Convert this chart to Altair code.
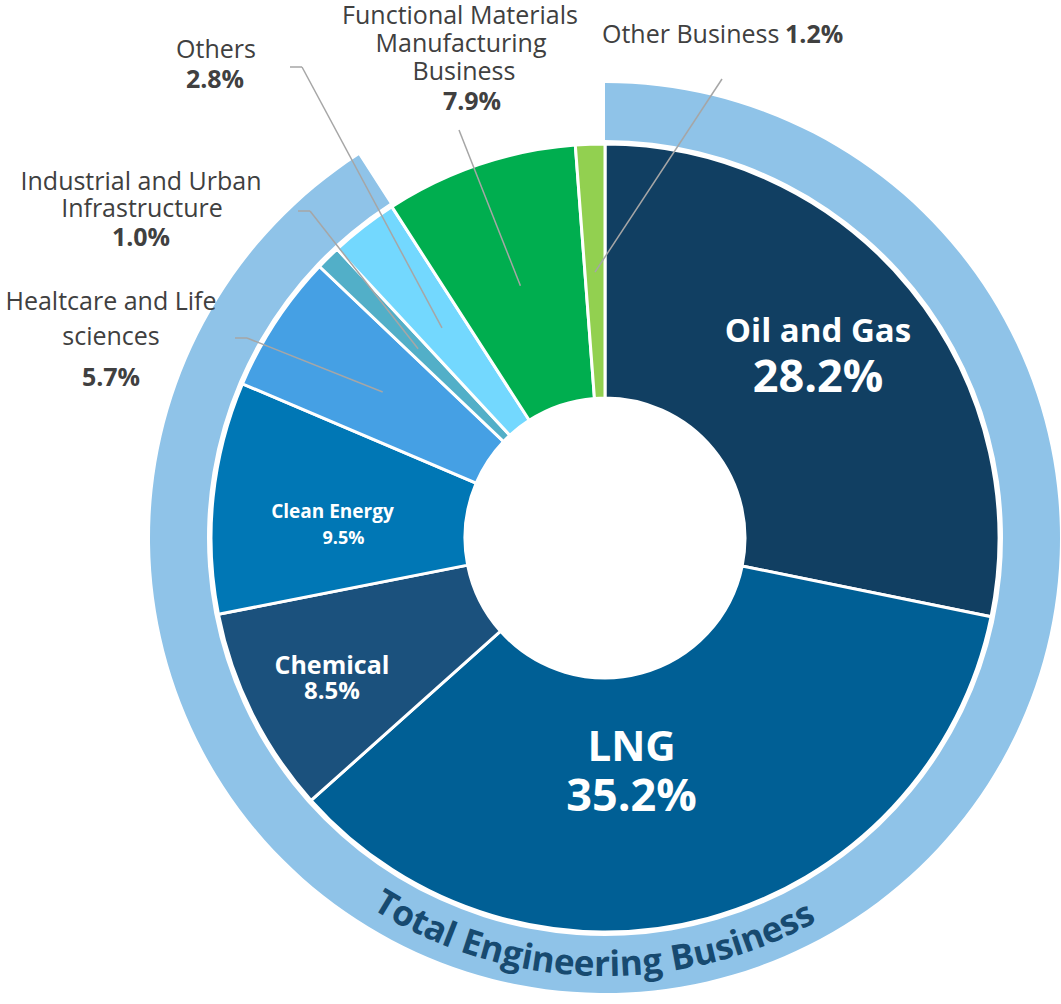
import math
import altair as alt
import pandas as pd

# ---------------- data ----------------
CATEGORIES = [
    "Oil and Gas",
    "LNG",
    "Chemical",
    "Clean Energy",
    "Healtcare and Life sciences",
    "Industrial and Urban Infrastructure",
    "Others",
    "Functional Materials Manufacturing Business",
    "Other Business",
]
SHARES = [28.2, 35.2, 8.5, 9.5, 5.7, 1.0, 2.8, 7.9, 1.2]
SEGMENTS = ["Total Engineering Business"] * 7 + ["Non-Engineering Business"] * 2
RING_TITLE = "Total Engineering Business"

# ---------------- styles ----------------
COLORS = ["#113F62", "#005F95", "#1B517D", "#0077B5", "#45A0E4",
          "#52AFC8", "#73D8FE", "#00AE4F", "#92D050"]
RING_COLOR = "#8FC3E8"
RING_TEXT_COLOR = "#174A70"
LABEL_COLOR = "#404040"
LEADER_COLOR = "#A6A6A6"
FONT = "Open Sans"
CX, CY = 605, 538
W, H = 1061, 1004

df = pd.DataFrame({
    "category": CATEGORIES,
    "share": SHARES,
    "segment": SEGMENTS,
    "order": list(range(len(CATEGORIES))),
})

# inner label layout: radius of anchor at slice mid-angle, per-line offsets and font sizes
INNER_LAYOUT = [
    dict(category="Oil and Gas", r=275, ndx=0, ndy=-32, nfs=33, pdx=0, pdy=14, pfs=45),
    dict(category="LNG", r=236, ndx=-35, ndy=-18, nfs=42, pdx=-35, pdy=31, pfs=45),
    dict(category="Chemical", r=305, ndx=0, ndy=-8, nfs=25, pdx=0, pdy=18, pfs=24),
    dict(category="Clean Energy", r=268, ndx=-6, ndy=2, nfs=19, pdx=5, pdy=29, pfs=18),
]

# leader lines: start at slice mid-angle (radius r), elbow (ex,ey), end (tx,ty)
LEADERS = [
    dict(category="Other Business", r=266, ex=722, ey=79, tx=722, ty=79),
    dict(category="Functional Materials Manufacturing Business", r=266, ex=459, ey=130, tx=459, ty=130),
    dict(category="Others", r=266, ex=302, ey=67, tx=290, ty=67),
    dict(category="Industrial and Urban Infrastructure", r=266, ex=310, ey=211, tx=298, ty=211),
    dict(category="Healtcare and Life sciences", r=266, ex=247, ey=338, tx=235, ty=338),
]

pct = {c: f"{v:.1f}%" for c, v in zip(CATEGORIES, SHARES)}

# external label lines (annotation text)
ANNOTATIONS = [
    dict(text="Others", x=216, y=50, w="normal", align="center"),
    dict(text=pct["Others"], x=215, y=80, w="bold", align="center"),
    dict(text="Industrial and Urban", x=141, y=182, w="normal", align="center"),
    dict(text="Infrastructure", x=142, y=209, w="normal", align="center"),
    dict(text=pct["Industrial and Urban Infrastructure"], x=141, y=238, w="bold", align="center"),
    dict(text="Healtcare and Life", x=111, y=302, w="normal", align="center"),
    dict(text="sciences", x=111, y=337, w="normal", align="center"),
    dict(text=pct["Healtcare and Life sciences"], x=111, y=378, w="bold", align="center"),
    dict(text="Functional Materials", x=460, y=16, w="normal", align="center"),
    dict(text="Manufacturing", x=461, y=44, w="normal", align="center"),
    dict(text="Business", x=464, y=72, w="normal", align="center"),
    dict(text=pct["Functional Materials Manufacturing Business"], x=472, y=102, w="bold", align="center"),
    dict(text="Other Business", x=602, y=35, w="normal", align="left"),
    dict(text=pct["Other Business"], x=785, y=35, w="bold", align="left"),
]
ann_df = pd.DataFrame(ANNOTATIONS)

# curved ring title: per-character placement along the ring
CHAR_EM = {"T": 0.56, "o": 0.60, "t": 0.42, "a": 0.58, "l": 0.29, " ": 0.26,
           "E": 0.55, "n": 0.64, "g": 0.57, "i": 0.29, "e": 0.57, "r": 0.45,
           "B": 0.66, "u": 0.64, "s": 0.49}
RING_FS = 35
RING_R = 427
RING_CENTER_DEG = 181.6
widths = [CHAR_EM.get(c, 0.55) * RING_FS for c in RING_TITLE]
total_w = sum(widths)
rows, cum = [], 0.0
for c, w in zip(RING_TITLE, widths):
    s = total_w / 2 - (cum + w / 2)
    th = RING_CENTER_DEG + math.degrees(s / RING_R)
    rows.append(dict(char=c, pos=th, rot=(th - 180) % 360))
    cum += w
chars_df = pd.DataFrame(rows)

# ---------------- layers ----------------
color_scale = alt.Scale(domain=CATEGORIES, range=COLORS)

pie = alt.Chart(df).mark_arc(
    innerRadius=140, outerRadius=394, stroke="white", strokeWidth=3
).encode(
    theta=alt.Theta("share:Q", stack=True),
    order=alt.Order("order:Q"),
    color=alt.Color("category:N", scale=color_scale, legend=None),
    x=alt.value(CX),
    y=alt.value(CY),
)

ring = alt.Chart(df).transform_aggregate(
    share="sum(share)", first="min(order)", groupby=["segment"]
).mark_arc(innerRadius=398, outerRadius=455).encode(
    theta=alt.Theta("share:Q", stack=True),
    order=alt.Order("first:Q"),
    color=alt.when(alt.datum.segment == RING_TITLE)
    .then(alt.value(RING_COLOR))
    .otherwise(alt.value("transparent")),
    x=alt.value(CX),
    y=alt.value(CY),
)

base = alt.Chart(df).transform_joinaggregate(
    total="sum(share)"
).transform_window(
    cum="sum(share)", sort=[alt.SortField("order", order="ascending")], frame=[None, 0]
).transform_calculate(
    mid="(datum.cum - datum.share / 2) / datum.total * 2 * PI"
)

leader_base = base.transform_lookup(
    lookup="category",
    from_=alt.LookupData(alt.InlineData(values=LEADERS), "category",
                         ["r", "ex", "ey", "tx", "ty"]),
).transform_filter("isValid(datum.r)").transform_calculate(
    ix=f"{CX} + datum.r * sin(datum.mid)",
    iy=f"{CY} - datum.r * cos(datum.mid)",
)

leader1 = leader_base.mark_rule(color=LEADER_COLOR, strokeWidth=1.5).encode(
    x=alt.X("ix:Q", scale=None, axis=None),
    y=alt.Y("iy:Q", scale=None, axis=None),
    x2="ex:Q",
    y2="ey:Q",
)
leader2 = leader_base.mark_rule(color=LEADER_COLOR, strokeWidth=1.5).encode(
    x=alt.X("ex:Q", scale=None, axis=None),
    y=alt.Y("ey:Q", scale=None, axis=None),
    x2="tx:Q",
    y2="ty:Q",
)

inner_base = base.transform_lookup(
    lookup="category",
    from_=alt.LookupData(alt.InlineData(values=INNER_LAYOUT), "category",
                         ["r", "ndx", "ndy", "nfs", "pdx", "pdy", "pfs"]),
).transform_filter("isValid(datum.r)").transform_calculate(
    ax=f"{CX} + datum.r * sin(datum.mid)",
    ay=f"{CY} - datum.r * cos(datum.mid)",
).transform_calculate(
    nx="datum.ax + datum.ndx",
    ny="datum.ay + datum.ndy",
    px="datum.ax + datum.pdx",
    py="datum.ay + datum.pdy",
    pct="format(datum.share, '.1f') + '%'",
)

inner_names = inner_base.mark_text(
    font=FONT, fontWeight="bold", color="white", align="center", baseline="middle"
).encode(
    x=alt.X("nx:Q", scale=None, axis=None),
    y=alt.Y("ny:Q", scale=None, axis=None),
    text="category:N",
    size=alt.Size("nfs:Q", scale=None, legend=None),
)
inner_pcts = inner_base.mark_text(
    font=FONT, fontWeight="bold", color="white", align="center", baseline="middle"
).encode(
    x=alt.X("px:Q", scale=None, axis=None),
    y=alt.Y("py:Q", scale=None, axis=None),
    text="pct:N",
    size=alt.Size("pfs:Q", scale=None, legend=None),
)


def ann_layer(weight, align):
    return alt.Chart(ann_df).transform_filter(
        (alt.datum.w == weight) & (alt.datum.align == align)
    ).mark_text(
        font=FONT, fontSize=25, fontWeight=weight, color=LABEL_COLOR,
        align=align, baseline="middle"
    ).encode(
        x=alt.X("x:Q", scale=None, axis=None),
        y=alt.Y("y:Q", scale=None, axis=None),
        text="text:N",
    )


ann_layers = [ann_layer("normal", "center"), ann_layer("bold", "center"),
              ann_layer("normal", "left"), ann_layer("bold", "left")]

curved = alt.Chart(chars_df).transform_calculate(
    cx=f"{CX} + {RING_R} * sin(datum.pos * PI / 180)",
    cy=f"{CY} - {RING_R} * cos(datum.pos * PI / 180)",
).mark_text(
    font=FONT, fontSize=RING_FS, fontWeight="bold", color=RING_TEXT_COLOR,
    align="center", baseline="middle"
).encode(
    x=alt.X("cx:Q", scale=None, axis=None),
    y=alt.Y("cy:Q", scale=None, axis=None),
    text="char:N",
    angle=alt.Angle("rot:Q", scale=None),
)

chart = alt.layer(
    ring, pie, leader1, leader2, inner_names, inner_pcts, *ann_layers, curved
).properties(
    width=W, height=H, padding=0, autosize="none", background="white"
).configure_view(stroke=None)

chart.save("out.html", embed_options={"renderer": "svg", "actions": False})
